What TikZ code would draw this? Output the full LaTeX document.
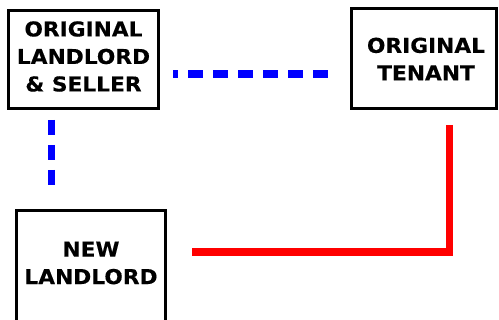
\documentclass[tikz,border=0pt]{standalone}
\usepackage{fontspec}
\setmainfont{DejaVu Sans}
\newfontfamily\lblfont{DejaVu Sans}[FakeStretch=1.06,FakeBold=0.3]
\begin{document}
\begin{tikzpicture}[x=1pt,y=-1pt,
  box/.style={draw=black,line width=3pt,rectangle,inner sep=0pt},
  lbl/.style={align=center,font=\lblfont\bfseries\fontsize{20.5}{27.5}\selectfont,inner sep=0pt},
  blueline/.style={draw={rgb,255:red,0;green,0;blue,255},line width=7.5pt,dash pattern=on 15pt off 10pt},
  redline/.style={draw={rgb,255:red,255;green,0;blue,0},line width=7.5pt,line join=miter}]
\useasboundingbox (0,0) rectangle (499,320);
\clip (0,0) rectangle (499,320);
\node[box,minimum width=150pt,minimum height=97.5pt] (landlord) at (83.3,59.5) {};
\node[lbl] (landlordtext) at (83.5,56.5) {ORIGINAL\\LANDLORD\\\& SELLER};
\node[box,minimum width=145pt,minimum height=100pt] (tenant) at (424,58.3) {};
\node[lbl] (tenanttext) at (426,59) {ORIGINAL\\TENANT};
\node[box,minimum width=148.5pt,minimum height=130pt] (newll) at (91,276) {};
\node[lbl] (newlltext) at (91,263) {NEW\\LANDLORD};
\coordinate (h1) at (173,74);
\coordinate (h2) at (328,74);
\coordinate (v1) at (51.3,120);
\coordinate (v2) at (51.3,185);
\coordinate (r1) at (449.7,125);
\coordinate (r2) at (449.7,252);
\coordinate (r3) at (192,252);
\draw[blueline,dash phase=10pt] (h1) -- (h2);
\draw[blueline] (v1) -- (v2);
\draw[redline] (r1) -- (r2) -- (r3);
\end{tikzpicture}
\end{document}
